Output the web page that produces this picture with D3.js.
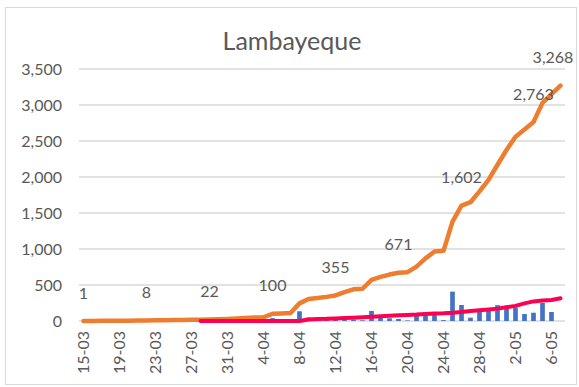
<!DOCTYPE html>
<html>
<head>
<meta charset="utf-8">
<script src="https://cdn.jsdelivr.net/npm/d3@7"></script>
<style>
  html, body { margin: 0; padding: 0; background: #fff; }
  svg { display: block; font-family: Lato, "Open Sans", sans-serif; }
</style>
</head>
<body>
<svg id="chart" width="579" height="387"></svg>
<script>
// Daily categories (day-month)
const dates = [
  "15-03","16-03","17-03","18-03","19-03","20-03","21-03","22-03","23-03","24-03",
  "25-03","26-03","27-03","28-03","29-03","30-03","31-03",
  "1-04","2-04","3-04","4-04","5-04","6-04","7-04","8-04","9-04","10-04",
  "11-04","12-04","13-04","14-04","15-04","16-04","17-04","18-04","19-04","20-04",
  "21-04","22-04","23-04","24-04","25-04","26-04","27-04","28-04","29-04","30-04",
  "1-05","2-05","3-05","4-05","5-05","6-05","7-05"
];

// Accumulated cases
const cumulative = [
  1, 1, 2, 3, 4, 5, 6, 8, 10, 12,
  13, 15, 17, 19, 22, 25, 29,
  34, 40, 47, 52, 100, 105, 110, 245, 305, 318,
  335, 355, 400, 440, 448, 570, 612, 645, 671, 678,
  755, 870, 965, 975, 1380, 1602, 1650, 1800, 1960, 2170,
  2375, 2560, 2660, 2763, 3030, 3150, 3268
];

// New cases per day (null = no bar)
const daily = [
  null, null, null, null, null, null, null, null, null, null,
  null, null, null, null, null, null, null,
  null, null, null, 8, 40, 5, 8, 135, 48, 12,
  15, 20, 15, 18, 10, 140, 55, 38, 28, 8,
  80, 118, 104, 12, 408, 222, 46, 135, 165, 220,
  212, 185, 97, 115, 250, 125, null
];

// Second line series (starts 28-03)
const secondLine = [
  null, null, null, null, null, null, null, null, null, null,
  null, null, null, 0, 0, 0, 0,
  0, 0, 0, 0, 0, 0, 0, 0, 20, 28,
  30, 35, 40, 45, 52, 58, 65, 72, 80, 85,
  90, 98, 105, 108, 115, 125, 140, 150, 160, 172,
  190, 210, 245, 272, 285, 292, 315
];

// Axis tick labels
const xTickLabels = ["15-03","19-03","23-03","27-03","31-03","4-04","8-04",
                     "12-04","16-04","20-04","24-04","28-04","2-05","6-05"];
const yTicks = [0, 500, 1000, 1500, 2000, 2500, 3000, 3500];

// Dates whose accumulated value is written above the line
const labelledDates = ["15-03","22-03","29-03","5-04","12-04","19-04","26-04","4-05","7-05"];

const svg = d3.select("#chart");
const W = 579, H = 387;
const plot = { left: 79, right: 565, top: 69, bottom: 321 };

// Chart frame
svg.append("rect")
  .attr("x", 5.5).attr("y", 7.5)
  .attr("width", W - 8).attr("height", H - 10)
  .attr("fill", "#fff").attr("stroke", "#d9d9d9").attr("stroke-width", 1);

const x = d3.scaleBand().domain(dates).range([plot.left, plot.right]).padding(0);
const cx = d => x(d) + x.bandwidth() / 2;
const y = d3.scaleLinear().domain([0, 3500]).range([plot.bottom, plot.top]);

// Title
svg.append("text")
  .attr("x", 292).attr("y", 50)
  .attr("text-anchor", "middle")
  .attr("font-size", 25)
  .attr("fill", "#595959")
  .text("Lambayeque");

// Horizontal gridlines
svg.append("g").selectAll("line").data(yTicks).join("line")
  .attr("x1", plot.left).attr("x2", plot.right)
  .attr("y1", d => y(d)).attr("y2", d => y(d))
  .attr("stroke", "#d9d9d9").attr("stroke-width", 1.5);

// Y axis labels
const yAxis = d3.axisLeft(y).tickValues(yTicks).tickFormat(d3.format(",")).tickSize(0).tickPadding(0);
const gy = svg.append("g").attr("transform", `translate(62,0)`).call(yAxis);
gy.select(".domain").remove();
gy.selectAll("text")
  .attr("font-size", 16).attr("fill", "#595959")
  .attr("font-family", "Lato, 'Open Sans', sans-serif");

// X axis labels (rotated)
const xAxis = d3.axisBottom(x).tickValues(xTickLabels).tickSize(0).tickPadding(0);
const gx = svg.append("g").attr("transform", `translate(0,${plot.bottom})`).call(xAxis);
gx.select(".domain").remove();
gx.selectAll("text")
  .attr("font-size", 16).attr("fill", "#595959")
  .attr("font-family", "Lato, 'Open Sans', sans-serif")
  .attr("text-anchor", "end")
  .attr("transform", "translate(0,10) rotate(-90)")
  .attr("x", 0).attr("y", 0).attr("dy", "0.35em");

// Daily bars
const barW = x.bandwidth() * 0.52;
svg.append("g").selectAll("rect")
  .data(dates.map((d, i) => ({ d, v: daily[i] })).filter(o => o.v != null))
  .join("rect")
  .attr("x", o => cx(o.d) - barW / 2)
  .attr("width", barW)
  .attr("y", o => y(o.v))
  .attr("height", o => y(0) - y(o.v))
  .attr("fill", "#4472c4");

// Accumulated line
const line = d3.line()
  .defined(o => o.v != null)
  .x(o => cx(o.d)).y(o => y(o.v));

svg.append("path")
  .datum(dates.map((d, i) => ({ d, v: cumulative[i] })))
  .attr("d", line)
  .attr("fill", "none").attr("stroke", "#ed7d31")
  .attr("stroke-width", 4.5).attr("stroke-linejoin", "round").attr("stroke-linecap", "round");

// Second line
svg.append("path")
  .datum(dates.map((d, i) => ({ d, v: secondLine[i] })))
  .attr("d", line)
  .attr("fill", "none").attr("stroke", "#ff0050")
  .attr("stroke-width", 4).attr("stroke-linejoin", "round").attr("stroke-linecap", "round");

// Value labels on the accumulated line
const fmt = d3.format(",");
svg.append("g").selectAll("text")
  .data(labelledDates.map(d => ({ d, v: cumulative[dates.indexOf(d)] })))
  .join("text")
  .attr("x", o => Math.min(cx(o.d), 553))
  .attr("y", o => y(o.v) - 28)
  .attr("dy", "0.35em")
  .attr("text-anchor", "middle")
  .attr("font-size", 16)
  .attr("fill", "#595959")
  .text(o => fmt(o.v));
</script>
</body>
</html>
